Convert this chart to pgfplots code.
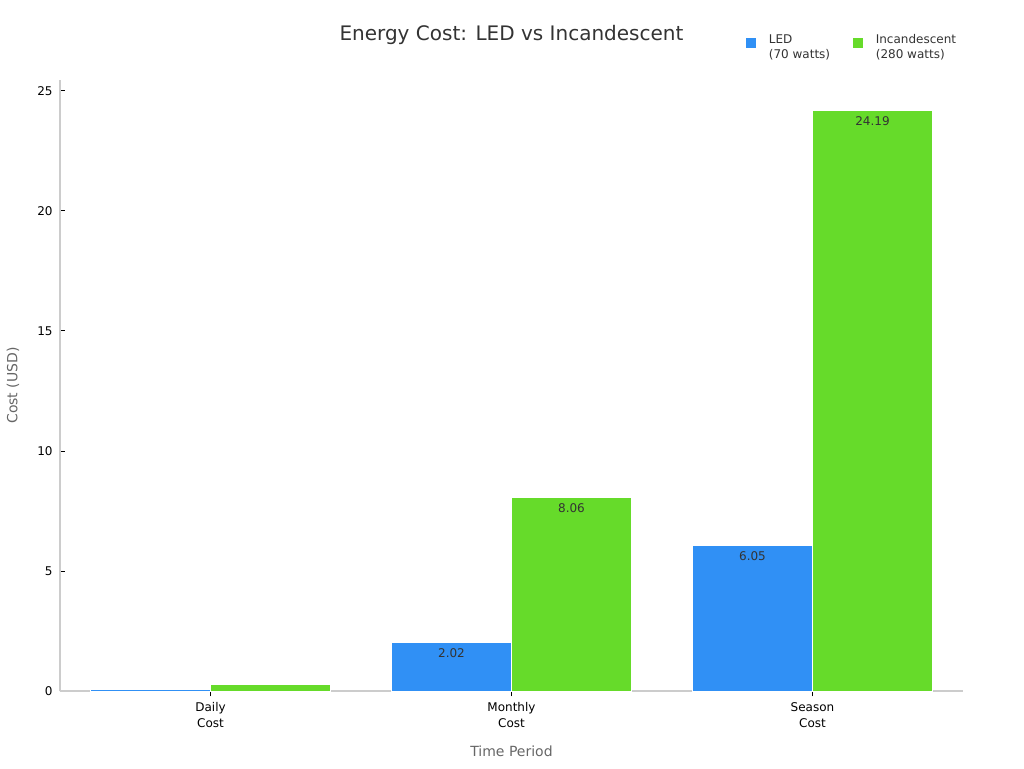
\documentclass[border=0pt]{standalone}
\usepackage{pgfplots}
\pgfplotsset{compat=1.18}
\usepackage{fontspec}
\setmainfont{DejaVu Sans}
\definecolor{ledblue}{HTML}{3090F5}
\definecolor{incgreen}{HTML}{66DB2A}
\definecolor{axgray}{HTML}{CCCCCC}
\definecolor{labgray}{HTML}{666666}
\definecolor{txtdark}{HTML}{333333}
\begin{document}
\begin{tikzpicture}
\path (-45pt,-57.75pt) rectangle (723pt,518.25pt);
\begin{axis}[
  at={(0,0)}, anchor=south west,
  scale only axis,
  width=677.25pt, height=458.25pt,
  ybar=0pt, bar width=90pt,
  xmin=-0.5, xmax=2.5,
  ymin=0, ymax=25.45,
  xtick={0,1,2},
  xticklabels={{Daily\\Cost},{Monthly\\Cost},{Season\\Cost}},
  xticklabel style={align=center, font=\fontsize{9}{12}\selectfont, text=black, yshift=-1pt},
  ytick={0,5,10,15,20,25},
  yticklabel style={font=\fontsize{9}{10}\selectfont, text=black, xshift=-2pt},
  /pgf/number format/assume math mode=true,
  axis x line*=bottom, axis y line*=left,
  axis line style={axgray, line width=0.8pt},
  tick style={black, line width=0.6pt},
  major tick length=4pt,
  tick pos=left,
  xlabel={Time Period}, ylabel={Cost (USD)},
  xlabel style={font=\fontsize{10.5}{12}\selectfont, text=labgray, at={(0.5,0)}, anchor=center, yshift=-45.5pt},
  ylabel style={font=\fontsize{10.5}{12}\selectfont, text=labgray, at={(-0.052,0.5)}, anchor=center},
  title={Energy Cost: LED vs Incandescent},
  title style={font=\fontsize{15}{18}\selectfont, text=txtdark, at={(0.5,1.061)}, anchor=center},
  point meta=explicit symbolic,
  nodes near coords,
  nodes near coords align={below},
  every node near coord/.append style={font=\fontsize{9}{10}\selectfont, text=txtdark, yshift=-1pt},
  legend columns=2,
  legend style={draw=none, fill=none, at={(1.0,1.085)}, anchor=north east,
    font=\fontsize{9}{11}\selectfont, text=txtdark,
    /tikz/every even column/.append style={column sep=15pt}},
  legend cell align=left,
  legend image code/.code={\fill[#1,draw=none] (0pt,-3.75pt) rectangle (7.5pt,3.75pt); \path (15pt,0pt);},
]
\addplot[fill=ledblue, draw=white, line width=0.5pt] coordinates {(0,0.07) [] (1,2.02) [2.02] (2,6.05) [6.05]};
\addlegendentry{\begin{tabular}{@{}l@{}}LED\\(70 watts)\end{tabular}}
\addplot[fill=incgreen, draw=white, line width=0.5pt] coordinates {(0,0.27) [] (1,8.06) [8.06] (2,24.19) [24.19]};
\addlegendentry{\begin{tabular}{@{}l@{}}Incandescent\\(280 watts)\end{tabular}}
\end{axis}
\end{tikzpicture}
\end{document}
